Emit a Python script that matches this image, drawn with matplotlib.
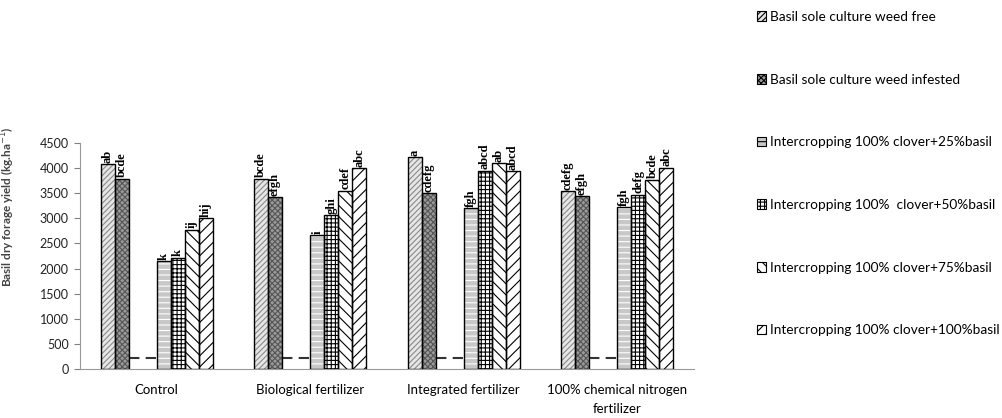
import numpy as np
import matplotlib.pyplot as plt
import matplotlib as mpl

mpl.rcParams['hatch.linewidth'] = 0.8

categories = ["Control", "Biological fertilizer", "Integrated fertilizer",
              "100% chemical nitrogen\nfertilizer"]
series = ["Basil sole culture weed free",
          "Basil sole culture weed infested",
          "Intercropping 100% clover+25%basil",
          "Intercropping 100%  clover+50%basil",
          "Intercropping 100% clover+75%basil",
          "Intercropping 100% clover+100%basil"]
values = [
    [4080, 3790, 4220, 3540],   # weed free
    [3790, 3420, 3500, 3440],   # weed infested
    [2150, 2660, 3200, 3220],   # 25%
    [2220, 3060, 3950, 3470],   # 50%
    [2770, 3550, 4100, 3770],   # 75%
    [3000, 4000, 3940, 4010],   # 100%
]
letters = [
    ["ab", "bcde", "a", "cdefg"],
    ["bcde", "efgh", "cdefg", "efgh"],
    ["k", "i", "fgh", "fgh"],
    ["k", "ghi", "abcd", "defg"],
    ["ij", "cdef", "ab", "bcde"],
    ["hij", "abc", "abcd", "abc"],
]
dash_value = 230

# slot positions (two empty slots between series 2 and 3)
slots = [-3.5, -2.5, 0.5, 1.5, 2.5, 3.5]
styles = [
    dict(facecolor="#e6e6e6", hatch="//////", hcol="#8a8a8a"),
    dict(facecolor="#9a9a9a", hatch="xxxxxx", hcol="#555555"),
    dict(facecolor="#c8c8c8", hatch="---", hcol="#ffffff"),
    dict(facecolor="white", hatch="++++", hcol="#000000"),
    dict(facecolor="white", hatch="\\\\\\", hcol="#000000"),
    dict(facecolor="white", hatch="///", hcol="#000000"),
]

w = 0.0915
x = np.arange(len(categories))

fig = plt.figure(figsize=(10.02, 4.18), dpi=100)
ax = fig.add_axes([0.0798, 0.117, 0.6128, 0.541])

handles = []
for i, name in enumerate(series):
    st = styles[i]
    b = ax.bar(x + slots[i] * w, values[i], width=w, facecolor=st["facecolor"],
               edgecolor=st["hcol"], hatch=st["hatch"], linewidth=0, label=name,
               zorder=2)
    ax.bar(x + slots[i] * w, values[i], width=w, facecolor="none",
           edgecolor="black", linewidth=1.0, zorder=3)
    handles.append(b)
    for xi, v, t in zip(x + slots[i] * w, values[i], letters[i]):
        ax.text(xi, v + 30, t, rotation=90, ha="center", va="bottom",
                fontsize=9, fontweight="bold", family="Liberation Serif")

for xi in x:
    ax.plot([xi - 2.0 * w, xi - 0.05 * w], [dash_value, dash_value],
            color="#333333", lw=1.5, ls=(0, (5, 3)), zorder=1)

ax.set_xlim(-0.5, 3.5)
ax.set_ylim(0, 4500)
ax.set_yticks(np.arange(0, 4501, 500))
ax.set_xticks(x)
ax.set_xticklabels(categories, fontsize=9.5, family="Lato", linespacing=1.65)
ax.tick_params(axis="x", length=0, pad=11)
ax.tick_params(axis="y", labelsize=9, colors="#808080", labelcolor="#222222",
               length=4, direction="out", pad=4)
for lab in ax.get_yticklabels():
    lab.set_family("Lato")
for s in ["top", "right"]:
    ax.spines[s].set_visible(False)
ax.spines["left"].set_color("#999999")
ax.spines["bottom"].set_color("#999999")

ax.set_ylabel("Basil dry forage yield (kg.ha$^{-1}$)", fontsize=8.5,
              fontweight="bold", color="#444444", family="Lato")
ax.yaxis.set_label_coords(-0.103, 0.72)

leg = fig.legend(handles, series, loc="upper left", bbox_to_anchor=(0.743, 1.003),
                 frameon=False, handlelength=0.7, handleheight=0.7,
                 handletextpad=0.25, labelspacing=3.72,
                 prop={"family": "Lato", "size": 9.8})
for p in leg.get_patches():
    p.set_linewidth(0.8)
    p.set_edgecolor("black")

fig.savefig("out.png", dpi=100)
